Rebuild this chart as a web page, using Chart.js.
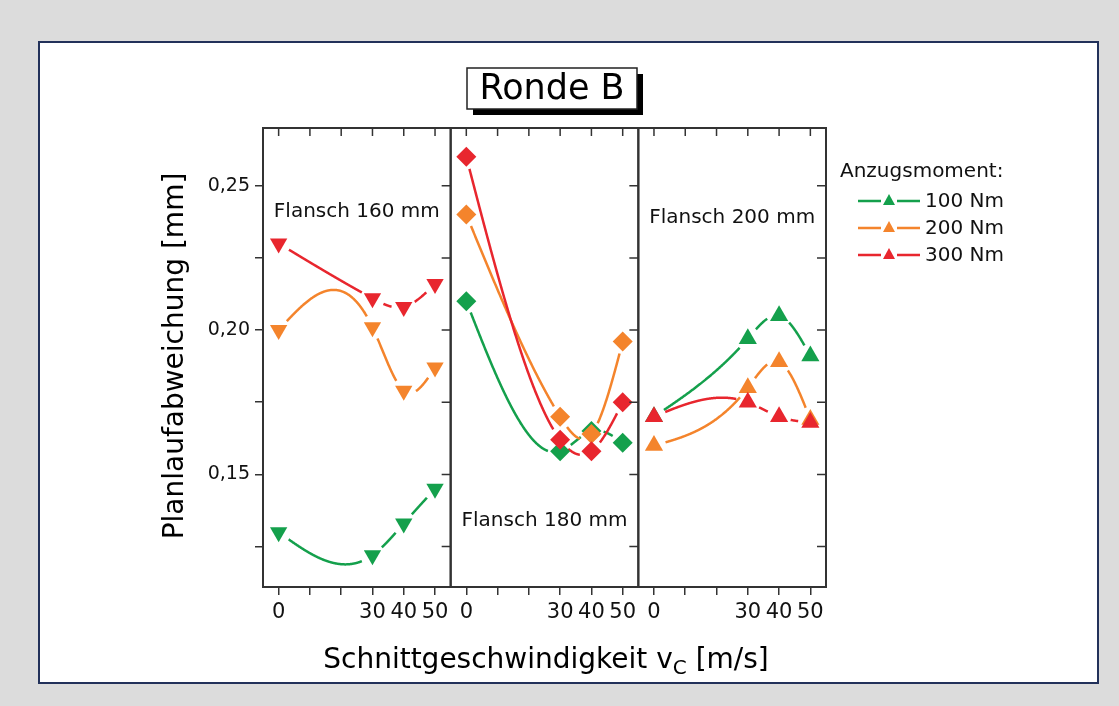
<!DOCTYPE html>
<html>
<head>
<meta charset="utf-8">
<title>Ronde B</title>
<script src="https://cdn.jsdelivr.net/npm/chart.js@4.4.1/dist/chart.umd.min.js"></script>
<style>
  html, body { margin: 0; padding: 0; background: #dcdcdc; }
  #wrap { width: 1119px; height: 706px; }
</style>
</head>
<body>
<div id="wrap"><canvas id="rondeChart" width="1119" height="706"></canvas></div>
<script>
// Schnittgeschwindigkeit vc [m/s]
const speeds = [0, 30, 40, 50];
const xTicks = [0, 10, 20, 30, 40, 50];
const yTicks = [0.125, 0.15, 0.175, 0.2, 0.225, 0.25];
const flanges = ['Flansch 160 mm', 'Flansch 180 mm', 'Flansch 200 mm'];
const torques = ['100 Nm', '200 Nm', '300 Nm'];

// Planlaufabweichung [mm]
const f160_100 = [0.130, 0.122, 0.133, 0.145];
const f160_200 = [0.200, 0.201, 0.179, 0.187];
const f160_300 = [0.230, 0.211, 0.208, 0.216];

const f180_100 = [0.210, 0.158, 0.165, 0.161];
const f180_200 = [0.240, 0.170, 0.164, 0.196];
const f180_300 = [0.260, 0.162, 0.158, 0.175];

const f200_100 = [0.170, 0.197, 0.205, 0.191];
const f200_200 = [0.160, 0.180, 0.189, 0.169];
const f200_300 = [0.170, 0.175, 0.170, 0.168];

const panels = [
    [f160_100, f160_200, f160_300],
    [f180_100, f180_200, f180_300],
    [f200_100, f200_200, f200_300]
];

const colors = ['#14a04c', '#f4842c', '#e8262e'];
const FONT = '"DejaVu Sans", Verdana, sans-serif';

const markerStyle = [
    { pointStyle: 'triangle', rotation: 180, radius: 10 },
    { pointStyle: 'rectRot', rotation: 0, radius: 10 },
    { pointStyle: 'triangle', rotation: 0, radius: 10.5 }
];

const datasets = [];
panels.forEach((series, p) => {
    series.forEach((vals, t) => {
        datasets.push({
            label: flanges[p] + ' / ' + torques[t],
            data: speeds.map((s, i) => ({ x: s, y: vals[i] })),
            xAxisID: 'x' + (p + 1),
            borderColor: colors[t],
            backgroundColor: colors[t],
            borderWidth: 2.5,
            showLine: false, // Linie kommt vom Spline-Plugin
            pointStyle: markerStyle[p].pointStyle,
            rotation: markerStyle[p].rotation,
            pointRadius: markerStyle[p].radius,
            pointBorderWidth: 0,
            order: 3 - t // rot oben
        });
    });
});

// natuerlicher kubischer Spline durch die Messpunkte (wie Origin "Spline")
function naturalSpline(xs, ys) {
    const n = xs.length;
    const h = [], d = [];
    for (let i = 0; i < n - 1; i++) {
        h[i] = xs[i + 1] - xs[i];
        d[i] = (ys[i + 1] - ys[i]) / h[i];
    }
    const M = new Array(n).fill(0);
    const a = [], b = [], c = [], r = [];
    for (let i = 1; i < n - 1; i++) {
        a[i] = h[i - 1];
        b[i] = 2 * (h[i - 1] + h[i]);
        c[i] = h[i];
        r[i] = 6 * (d[i] - d[i - 1]);
    }
    for (let i = 2; i < n - 1; i++) {
        const m = a[i] / b[i - 1];
        b[i] -= m * c[i - 1];
        r[i] -= m * r[i - 1];
    }
    for (let i = n - 2; i >= 1; i--) {
        M[i] = (r[i] - (i < n - 2 ? c[i] * M[i + 1] : 0)) / b[i];
    }
    return x => {
        let i = 0;
        while (i < n - 2 && x > xs[i + 1]) i++;
        const x0 = xs[i], x1 = xs[i + 1], hh = h[i];
        return M[i] * Math.pow(x1 - x, 3) / (6 * hh) +
            M[i + 1] * Math.pow(x - x0, 3) / (6 * hh) +
            (ys[i] / hh - M[i] * hh / 6) * (x1 - x) +
            (ys[i + 1] / hh - M[i + 1] * hh / 6) * (x - x0);
    };
}

const splineLines = {
    id: 'splineLines',
    beforeDatasetsDraw(chart) {
        const ctx = chart.ctx;
        const yScale = chart.scales.y;
        const area = chart.chartArea;
        ctx.save();
        ctx.beginPath();
        ctx.rect(area.left, area.top, area.right - area.left, area.bottom - area.top);
        ctx.clip();
        chart.data.datasets.forEach(ds => {
            const xScale = chart.scales[ds.xAxisID];
            const xs = ds.data.map(pt => pt.x);
            const ys = ds.data.map(pt => pt.y);
            const f = naturalSpline(xs, ys);
            const pix = ds.data.map(pt => [xScale.getPixelForValue(pt.x), yScale.getPixelForValue(pt.y)]);
            const gap = 12; // Abstand zum Symbol
            ctx.strokeStyle = ds.borderColor;
            ctx.lineWidth = 2.5;
            ctx.lineCap = 'butt';
            ctx.beginPath();
            let pen = false;
            for (let x = xs[0]; x <= xs[xs.length - 1] + 1e-9; x += 0.1) {
                const px = xScale.getPixelForValue(x);
                const py = yScale.getPixelForValue(f(x));
                const near = pix.some(q => Math.hypot(q[0] - px, q[1] - py) < gap);
                if (near) { pen = false; continue; }
                if (!pen) { ctx.moveTo(px, py); pen = true; }
                else ctx.lineTo(px, py);
            }
            ctx.stroke();
        });
        ctx.restore();
    }
};

function xAxis(p) {
    return {
        type: 'linear',
        position: 'bottom',
        stack: 'panels',
        stackWeight: 1,
        min: -5,
        max: 55,
        afterBuildTicks: s => { s.ticks = xTicks.map(v => ({ value: v })); },
        afterFit: s => { s.height = 50; },
        ticks: {
            autoSkip: false,
            maxRotation: 0,
            padding: 5,
            color: '#111',
            font: { family: FONT, size: 21 },
            callback: v => speeds.includes(v) ? String(v) : ''
        },
        grid: {
            drawOnChartArea: false,
            drawTicks: true,
            tickLength: 8,
            color: '#333',
            lineWidth: 1.5
        },
        border: { display: true, color: '#333', width: 2 }
    };
}

// Rahmen, Ticks innen, Titel, Beschriftungen, Legende
const decor = {
    id: 'decor',
    beforeDraw(chart) {
        const ctx = chart.ctx;
        ctx.save();
        ctx.fillStyle = '#dcdcdc';
        ctx.fillRect(0, 0, chart.width, chart.height);
        ctx.fillStyle = '#ffffff';
        ctx.fillRect(39, 42, 1059, 641);
        ctx.strokeStyle = '#22315a';
        ctx.lineWidth = 2;
        ctx.strokeRect(39, 42, 1059, 641);
        ctx.restore();
    },
    afterDraw(chart) {
        const ctx = chart.ctx;
        const area = chart.chartArea;
        const y = chart.scales.y;
        ctx.save();

        // Panelrahmen + Ticks
        ['x1', 'x2', 'x3'].forEach((id, p) => {
            const sx = chart.scales[id];
            ctx.strokeStyle = '#333';
            ctx.lineWidth = 2;
            ctx.strokeRect(sx.left, area.top, sx.right - sx.left, area.bottom - area.top);
            ctx.lineWidth = 1.5;
            ctx.beginPath();
            xTicks.forEach(v => {
                const px = sx.getPixelForValue(v);
                ctx.moveTo(px, area.top);
                ctx.lineTo(px, area.top + 8);
            });
            yTicks.forEach(v => {
                const py = y.getPixelForValue(v);
                ctx.moveTo(sx.right, py);
                ctx.lineTo(sx.right - 9, py);
            });
            ctx.stroke();

            // Flansch-Beschriftung
            const labelY = [0.241, 0.134, 0.239][p];
            ctx.fillStyle = '#111';
            ctx.font = '20px ' + FONT;
            ctx.textAlign = 'center';
            ctx.textBaseline = 'middle';
            ctx.fillText(flanges[p], (sx.left + sx.right) / 2, y.getPixelForValue(labelY));
        });

        // Titel "Ronde B"
        ctx.fillStyle = '#000';
        ctx.fillRect(473, 74, 170, 41);
        ctx.fillStyle = '#fff';
        ctx.fillRect(467, 68, 170, 41);
        ctx.strokeStyle = '#222';
        ctx.lineWidth = 1.5;
        ctx.strokeRect(467, 68, 170, 41);
        ctx.fillStyle = '#000';
        ctx.font = '35px ' + FONT;
        ctx.textAlign = 'center';
        ctx.textBaseline = 'middle';
        ctx.fillText('Ronde B', 552, 90);

        // Y-Achsentitel
        ctx.save();
        ctx.translate(176, 356);
        ctx.rotate(-Math.PI / 2);
        ctx.font = '28px ' + FONT;
        ctx.fillStyle = '#000';
        ctx.textAlign = 'center';
        ctx.textBaseline = 'middle';
        ctx.fillText('Planlaufabweichung [mm]', 0, 0);
        ctx.restore();

        // X-Achsentitel mit Index C
        const t1 = 'Schnittgeschwindigkeit v';
        const t2 = 'C';
        const t3 = ' [m/s]';
        ctx.font = '28px ' + FONT;
        const w1 = ctx.measureText(t1).width;
        const w3 = ctx.measureText(t3).width;
        ctx.font = '20px ' + FONT;
        const w2 = ctx.measureText(t2).width;
        const total = w1 + w2 + w3;
        const x0 = 546 - total / 2;
        const base = 668;
        ctx.fillStyle = '#000';
        ctx.textAlign = 'left';
        ctx.textBaseline = 'alphabetic';
        ctx.font = '28px ' + FONT;
        ctx.fillText(t1, x0, base);
        ctx.font = '20px ' + FONT;
        ctx.fillText(t2, x0 + w1, base + 6);
        ctx.font = '28px ' + FONT;
        ctx.fillText(t3, x0 + w1 + w2, base);

        // Legende
        ctx.font = '20px ' + FONT;
        ctx.fillStyle = '#111';
        ctx.textBaseline = 'middle';
        ctx.fillText('Anzugsmoment:', 840, 172);
        torques.forEach((lab, i) => {
            const ly = 201 + i * 27;
            ctx.strokeStyle = colors[i];
            ctx.lineWidth = 2.5;
            ctx.beginPath();
            ctx.moveTo(858, ly);
            ctx.lineTo(881, ly);
            ctx.moveTo(897, ly);
            ctx.lineTo(920, ly);
            ctx.stroke();
            ctx.fillStyle = colors[i];
            ctx.beginPath();
            ctx.moveTo(889, ly - 7);
            ctx.lineTo(895, ly + 4);
            ctx.lineTo(883, ly + 4);
            ctx.closePath();
            ctx.fill();
            ctx.fillStyle = '#111';
            ctx.fillText(lab, 925, ly + 1);
        });

        ctx.restore();
    }
};

const ctx = document.getElementById('rondeChart').getContext('2d');
const rondeChart = new Chart(ctx, {
    type: 'line',
    data: { datasets: datasets },
    plugins: [decor, splineLines],
    options: {
        responsive: false,
        animation: false,
        events: [],
        layout: { padding: { left: 0, right: 293, top: 128, bottom: 69 } },
        plugins: {
            legend: { display: false },
            tooltip: { enabled: false },
            title: { display: false }
        },
        scales: {
            x1: xAxis(0),
            x2: xAxis(1),
            x3: xAxis(2),
            y: {
                type: 'linear',
                position: 'left',
                min: 0.111,
                max: 0.27,
                afterBuildTicks: s => { s.ticks = yTicks.map(v => ({ value: v })); },
                afterFit: s => { s.width = 263; },
                ticks: {
                    autoSkip: false,
                    padding: 5,
                    color: '#111',
                    font: { family: FONT, size: 19 },
                    callback: v => (Math.round(v * 1000) % 50 === 0) ? v.toFixed(2).replace('.', ',') : ''
                },
                grid: {
                    drawOnChartArea: false,
                    drawTicks: true,
                    tickLength: 8,
                    color: '#333',
                    lineWidth: 1.5
                },
                border: { display: true, color: '#333', width: 2 }
            }
        }
    }
});
</script>
</body>
</html>
